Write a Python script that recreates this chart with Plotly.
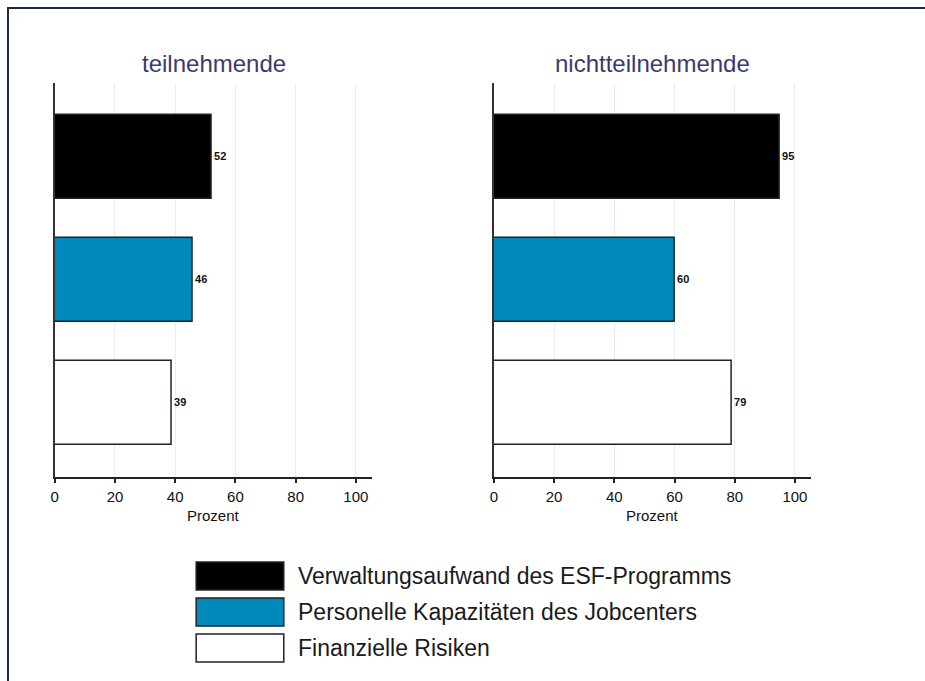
import plotly.graph_objects as go

panels = ["teilnehmende", "nichtteilnehmende"]
categories = ["Verwaltungsaufwand des ESF-Programms",
              "Personelle Kapazitäten des Jobcenters",
              "Finanzielle Risiken"]
values_teil = [52, 46, 39]
values_nicht = [95, 60, 79]
colors = ["#000000", "#0089bb", "#ffffff"]
tick_vals = [0, 20, 40, 60, 80, 100]
tick_text = ["0", "20", "40", "60", "80", "100"]
axis_title = "Prozent"

W, H = 925, 681
DX = 3
FONT = "Liberation Sans, Arial, sans-serif"

def px(x):
    return (x - DX) / W

def py(y):
    return 1 - y / H

fig = go.Figure()

series = [values_teil, values_nicht]
for pi, vals in enumerate(series):
    xa = "x" if pi == 0 else "x2"
    ya = "y" if pi == 0 else "y2"
    for ci, cat in enumerate(categories):
        fig.add_trace(go.Bar(
            x=[vals[ci]], y=[ci], orientation="h",
            marker=dict(color=colors[ci], line=dict(color="#222222", width=1.5)),
            width=0.68,
            text=[vals[ci]], texttemplate="%{x}", textposition="outside",
            textfont=dict(size=11, color="#111111", family=FONT, weight="bold"),
            cliponaxis=False,
            name=cat, showlegend=False,
            xaxis=xa, yaxis=ya,
        ))

ydom = [py(477), py(83)]
xdoms = [[px(54), px(373)], [px(495), px(814)]]

xcommon = dict(range=[0, 105.5], tickvals=tick_vals, ticktext=tick_text,
               showgrid=True, gridcolor="#e6eef4", gridwidth=1,
               showline=True, linecolor="#222222", linewidth=2,
               ticks="outside", ticklen=4, tickwidth=1.5, tickcolor="#222222",
               tickfont=dict(size=15, color="#111111", family=FONT),
               ticklabelstandoff=1,
               zeroline=False, fixedrange=True)
ycommon = dict(range=[2.6, -0.6], showticklabels=False, showgrid=False,
               showline=True, linecolor="#333333", linewidth=2,
               ticks="", zeroline=False, fixedrange=True)

fig.update_layout(
    width=W, height=H,
    margin=dict(l=0, r=0, t=0, b=0),
    paper_bgcolor="white", plot_bgcolor="white",
    showlegend=False, bargap=0,
    font=dict(family=FONT),
    xaxis=dict(domain=xdoms[0], anchor="y", **xcommon),
    yaxis=dict(domain=ydom, anchor="x", **ycommon),
    xaxis2=dict(domain=xdoms[1], anchor="y2", **xcommon),
    yaxis2=dict(domain=ydom, anchor="x2", **ycommon),
)

annotations = []
shapes = []
for pi, name in enumerate(panels):
    cx = (xdoms[pi][0] + xdoms[pi][1]) / 2
    annotations.append(dict(text=name, x=cx, y=py(63), xref="paper", yref="paper",
                            showarrow=False, xanchor="center", yanchor="middle",
                            font=dict(size=24, color="#3b3b6b", family=FONT)))
    annotations.append(dict(text=axis_title, x=cx, y=py(515), xref="paper", yref="paper",
                            showarrow=False, xanchor="center", yanchor="middle",
                            font=dict(size=15, color="#111111", family=FONT)))

leg_top = [562, 598, 634]
for ci, cat in enumerate(categories):
    y0 = leg_top[ci]
    shapes.append(dict(type="rect", xref="paper", yref="paper",
                       x0=px(196), x1=px(284), y0=py(y0 + 28), y1=py(y0),
                       fillcolor=colors[ci], line=dict(color="#222222", width=1.5)))
    annotations.append(dict(text=cat, x=px(296), y=py(y0 + 14), xref="paper", yref="paper",
                            showarrow=False, xanchor="left", yanchor="middle",
                            font=dict(size=23, color="#1a1a1a", family=FONT)))

# outer frame (left and top edges visible in the crop)
shapes.append(dict(type="line", xref="paper", yref="paper",
                   x0=px(7), x1=px(7), y0=py(8), y1=py(720),
                   line=dict(color="#1c2c48", width=2)))
shapes.append(dict(type="line", xref="paper", yref="paper",
                   x0=px(6), x1=px(990), y0=py(8), y1=py(8),
                   line=dict(color="#1c2c48", width=2)))

fig.update_layout(annotations=annotations, shapes=shapes)
fig.write_html("out.html",
               config={"displayModeBar": False},
               post_script="document.body.style.margin='0';document.body.style.overflow='hidden';")
